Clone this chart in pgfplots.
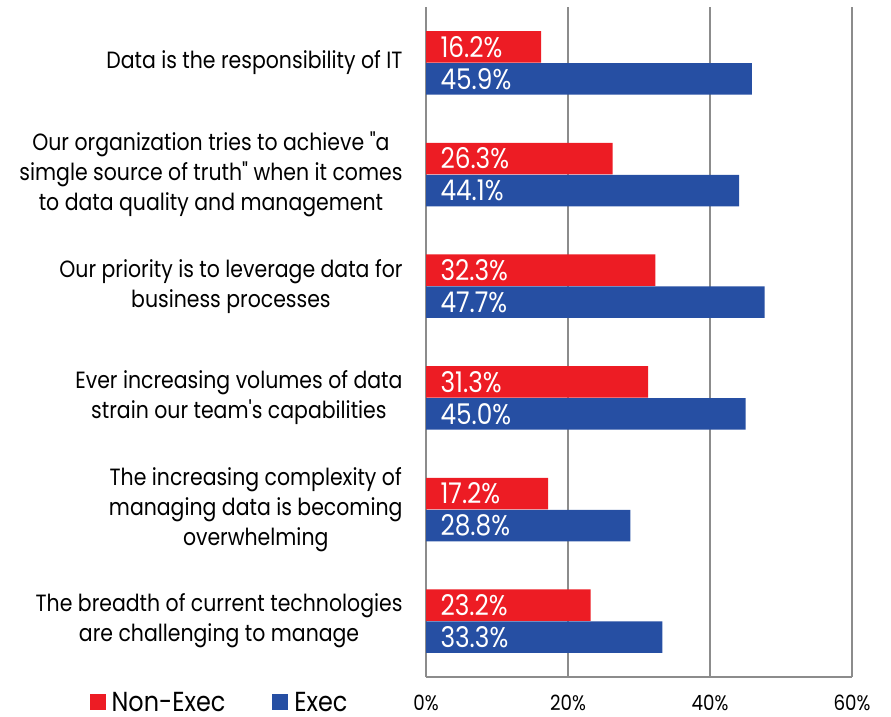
\documentclass[border=0pt]{standalone}
\usepackage{fontspec}
\setmainfont{Poppins}[Ligatures=TeXOff, FakeStretch=0.87]
\usepackage{pgfplots}
\pgfplotsset{compat=1.18}
\definecolor{nonexec}{HTML}{ED1C24}
\definecolor{exec}{HTML}{264FA3}
\definecolor{gridgray}{HTML}{8C8C8C}

\begin{document}
\begin{tikzpicture}
\useasboundingbox (0,0) rectangle (891pt,716pt);
\begin{axis}[
  at={(426pt,39pt)}, anchor=south west,
  scale only axis, width=426pt, height=670pt,
  xbar, bar width=31.5pt,
  xmin=0, xmax=60, ymin=-0.5, ymax=5.5,
  axis lines*=left,
  axis line style={gridgray, line width=1.2pt},
  xmajorgrids, grid style={gridgray, line width=1.2pt},
  major tick length=0pt,
  /pgf/number format/assume math mode=true,
  xtick={0,20,40,60},
  xticklabel={\pgfmathprintnumber{\tick}\%},
  xticklabel style={anchor=center, inner sep=0pt, yshift=-26pt, font=\fontsize{21}{22}\selectfont},
  ytick={0,...,5},
  yticklabels={
    {The breadth of current technologies\\are challenging to manage},
    {The increasing complexity of\\managing data is becoming\\overwhelming},
    {Ever increasing volumes of data\\strain our team's capabilities},
    {Our priority is to leverage data for\\business processes},
    {Our organization tries to achieve "a\\simgle source of truth" when it comes\\to data quality and management},
    {Data is the responsibility of IT}},
  yticklabel style={align=center, anchor=east, xshift=-20pt,
    font=\fontsize{23.5}{30}\selectfont},
  visualization depends on={x \as \rawx},
  nodes near coords={\pgfmathprintnumber[fixed,fixed zerofill,precision=1]{\pgfplotspointmeta}\%},
  point meta=x,
  every node near coord/.append style={white, anchor=west,
    shift={(axis direction cs:-\rawx,0)}, xshift=11pt,
    font=\fontsize{28.5}{30}\selectfont},
  legend style={at={(axis description cs:-0.79,-0.038)}, anchor=west,
    draw=none, fill=none, legend columns=2, inner sep=0pt,
    font=\fontsize{27.5}{30}\selectfont,
    nodes={inner sep=0pt},
    /tikz/every odd column/.append style={column sep=6pt},
    /tikz/every even column/.append style={column sep=47pt}},
  legend image code/.code={\fill[#1] (0pt,-8pt) rectangle (16pt,8.5pt);},
]
\addplot[fill=nonexec, draw=none, bar shift=16pt] coordinates {
  (23.2,0) (17.2,1) (31.3,2) (32.3,3) (26.3,4) (16.2,5)};
\addlegendentry{Non-Exec}
\addplot[fill=exec, draw=none, bar shift=-16pt] coordinates {
  (33.3,0) (28.8,1) (45.0,2) (47.7,3) (44.1,4) (45.9,5)};
\addlegendentry{Exec}
\end{axis}
\end{tikzpicture}
\end{document}
